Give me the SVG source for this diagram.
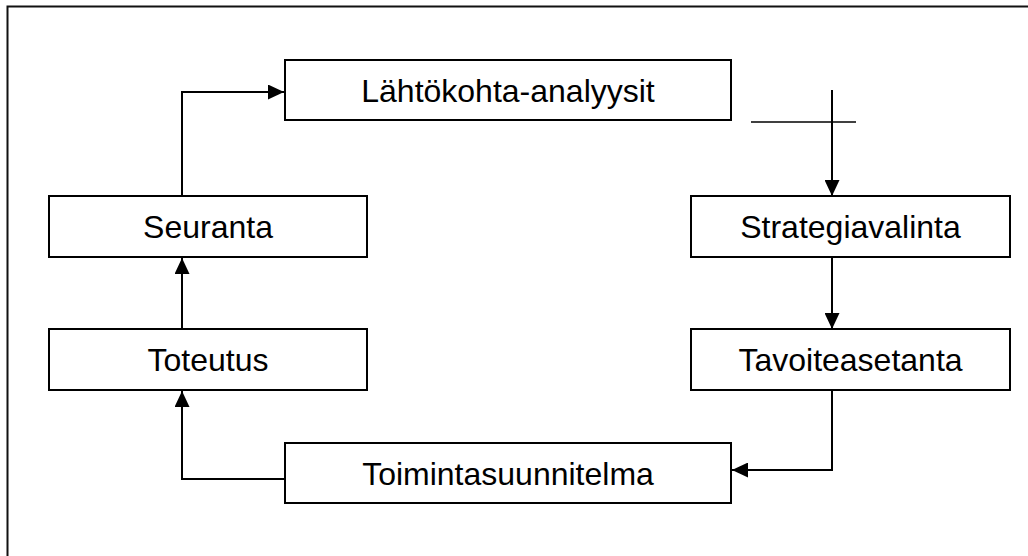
<svg xmlns="http://www.w3.org/2000/svg" width="1028" height="556" viewBox="0 0 1028 556">
<style>
.box{fill:#fff;stroke:#000;stroke-width:2}
.lbl{font-family:"Liberation Sans",Arial,sans-serif;font-size:32px;fill:#000;text-anchor:middle}
.con{fill:none;stroke:#000;stroke-width:2}
</style>
<defs>
<marker id="ah" markerUnits="userSpaceOnUse" markerWidth="16" markerHeight="15" refX="16" refY="7.5" orient="auto">
<path d="M0,0 L16,7.5 L0,15 z" fill="#000"/>
</marker>
</defs>
<rect width="1028" height="556" fill="#fff"/>
<path d="M7.5,560 V6.5 H1032" fill="none" stroke="#111" stroke-width="2"/>
<g id="connectors">
<path class="con" d="M182,196 V92 H284" marker-end="url(#ah)"/>
<path class="con" d="M182,329 V258" marker-end="url(#ah)"/>
<path class="con" d="M832,90 V196" marker-end="url(#ah)"/>
<path d="M751,122 H856" stroke="#000" stroke-width="1.5"/>
<path class="con" d="M832,257 V329" marker-end="url(#ah)"/>
<path class="con" d="M832,390 V470 H732" marker-end="url(#ah)"/>
<path class="con" d="M284,479 H182 V391" marker-end="url(#ah)"/>
</g>
<g id="lahtokohta"><rect class="box" x="285" y="60" width="446" height="60"/><text class="lbl" x="508" y="102">Lähtökohta-analyysit</text></g>
<g id="seuranta"><rect class="box" x="49" y="196" width="318" height="61"/><text class="lbl" x="208" y="238">Seuranta</text></g>
<g id="strategiavalinta"><rect class="box" x="691" y="196" width="319" height="61"/><text class="lbl" x="850.5" y="238">Strategiavalinta</text></g>
<g id="toteutus"><rect class="box" x="49" y="329" width="318" height="61"/><text class="lbl" x="208" y="371">Toteutus</text></g>
<g id="tavoiteasetanta"><rect class="box" x="691" y="329" width="319" height="61"/><text class="lbl" x="850.5" y="371">Tavoiteasetanta</text></g>
<g id="toimintasuunnitelma"><rect class="box" x="285" y="443" width="446" height="60"/><text class="lbl" x="508" y="484.5">Toimintasuunnitelma</text></g>
</svg>
